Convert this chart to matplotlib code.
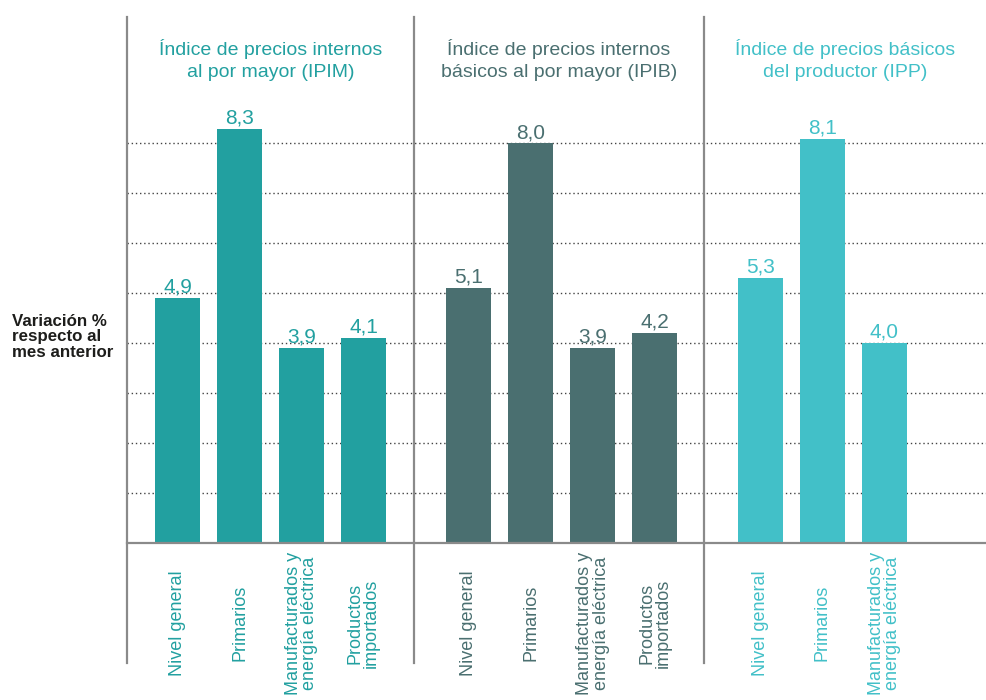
import matplotlib
matplotlib.use("Agg")
import matplotlib.pyplot as plt

plt.rcParams["font.family"] = ["Liberation Sans", "DejaVu Sans"]

# データ
titulos = [
    "Índice de precios internos\nal por mayor (IPIM)",
    "Índice de precios internos\nbásicos al por mayor (IPIB)",
    "Índice de precios básicos\ndel productor (IPP)",
]
cat_ipim = ["Nivel general", "Primarios", "Manufacturados y\nenergía eléctrica", "Productos\nimportados"]
cat_ipib = ["Nivel general", "Primarios", "Manufacturados y\nenergía eléctrica", "Productos\nimportados"]
cat_ipp = ["Nivel general", "Primarios", "Manufacturados y\nenergía eléctrica"]
val_ipim = [4.9, 8.3, 3.9, 4.1]
val_ipib = [5.1, 8.0, 3.9, 4.2]
val_ipp = [5.3, 8.1, 4.0]
ylabel = "Variación %\nrespecto al\nmes anterior"

colores = ["#22A0A0", "#4A6F70", "#42C0C8"]
grupos = [(cat_ipim, val_ipim), (cat_ipib, val_ipib), (cat_ipp, val_ipp)]

# レイアウト
paso_grupo = 4.7
xmin, xmax = -0.815, 13.04
ymax = 10.535
separadores = [xmin, 3.815, 8.49]
bajo = -2.41  # 区切り線の下端

fig = plt.figure(figsize=(9.86, 7.0), dpi=100)
ax = fig.add_axes([127 / 986, 1 - 542.7 / 700, 1 - 127 / 986, (542.7 - 17) / 700])
ax.set_xlim(xmin, xmax)
ax.set_ylim(0, ymax)
ax.axis("off")

# グリッド線
for y in range(1, 9):
    ax.plot([xmin, xmax + 0.1], [y, y], color="#444444", lw=1.0, ls=(0, (1, 2)), zorder=1,
            clip_on=False)
ax.plot([xmin, xmax + 0.1], [0, 0], color="#8a8a8a", lw=1.6, zorder=3, clip_on=False)

# 区切り線
for s in separadores:
    ax.plot([s, s], [bajo, ymax], color="#8a8a8a", lw=1.6, zorder=3, clip_on=False)

limites = separadores + [xmax]
for g, (cats, vals) in enumerate(grupos):
    col = colores[g]
    pos = [g * paso_grupo + i for i in range(len(vals))]
    ax.bar(pos, vals, width=0.726, color=col, zorder=2)
    for x, v in zip(pos, vals):
        ax.annotate(f"{v:.1f}".replace(".", ","), (x, v), xytext=(0, 1),
                    textcoords="offset points", ha="center", va="bottom",
                    fontsize=15, color=col, zorder=4)
    for x, c in zip(pos, cats):
        ax.text(x, -1.61, c, rotation=90, ha="center", va="center",
                multialignment="center", fontsize=13, color=col,
                linespacing=0.95, clip_on=False)
    centro = (limites[g] + limites[g + 1]) / 2
    ax.text(centro, 9.67, titulos[g], ha="center", va="center", fontsize=14,
            color=col, linespacing=1.4)

fig.text(12 / 986, 1 - 337 / 700, ylabel, ha="left", va="center", fontsize=12.2,
         fontweight="bold", color="#1d1d1b", linespacing=1.05)

fig.savefig("out.png", dpi=100)
